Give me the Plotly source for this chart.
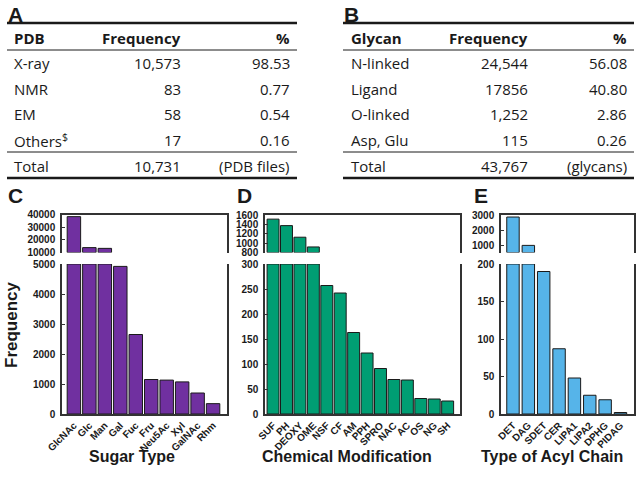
import plotly.graph_objects as go

W, H = 638, 478

# --- Table A: PDB entries by method ---
pdb_header = ["PDB", "Frequency", "%"]
pdb_rows = ["X-ray", "NMR", "EM", "Others<sup>$</sup>"]
pdb_freq = ["10,573", "83", "58", "17"]
pdb_pct = ["98.53", "0.77", "0.54", "0.16"]
pdb_total = ["Total", "10,731", "(PDB files)"]

# --- Table B: glycan types ---
gly_header = ["Glycan", "Frequency", "%"]
gly_rows = ["N-linked", "Ligand", "O-linked", "Asp, Glu"]
gly_freq = ["24,544", "17856", "1,252", "115"]
gly_pct = ["56.08", "40.80", "2.86", "0.26"]
gly_total = ["Total", "43,767", "(glycans)"]

# --- Bar panels ---
sugar_types = ["GlcNAc", "Glc", "Man", "Gal", "Fuc", "Fru", "Neu5Ac", "Xyl", "GalNAc", "Rhm"]
sugar_freq = [38600, 13900, 13300, 4920, 2650, 1150, 1130, 1070, 700, 345]

mod_types = ["SUF", "PH", "DEOXY", "OME", "NSF", "CF", "AM", "PPH", "SPRO", "NAC", "AC", "OS", "NG", "SH"]
mod_freq = [1520, 1380, 1130, 920, 257, 242, 163, 122, 91, 69, 68, 31, 30, 26]

acyl_types = ["DET", "DAG", "SDET", "CER", "LIPA1", "LIPA2", "DPHG", "PIDAG"]
acyl_freq = [2890, 980, 190, 87, 48, 25, 19, 2]


def px(x):
    return x / W


def py(y):
    return 1 - y / H


TXT = "#1a1a1a"
LINE = "#333333"
tab_font = dict(family="Open Sans", size=15, color=TXT)
tab_bold = dict(family="Open Sans", size=15, color=TXT, weight="bold")
tick_font = dict(family="Liberation Sans", size=10, color=TXT, weight="bold")
title_font = dict(family="Liberation Sans", size=16, color=TXT, weight="bold")
letter_font = dict(family="Liberation Sans", size=21, color=TXT, weight="bold")

fig = go.Figure()
annotations = []
shapes = []


def add_text(x, y, text, font, anchor="left", angle=0):
    annotations.append(dict(x=px(x), y=py(y), xref="paper", yref="paper", text=text,
                            showarrow=False, xanchor=anchor, yanchor="middle",
                            font=font, textangle=angle))


def add_hline(x0, x1, y, w):
    shapes.append(dict(type="line", xref="paper", yref="paper", x0=px(x0), x1=px(x1),
                       y0=py(y), y1=py(y), line=dict(color=TXT, width=w)))


def draw_table(x0, x1, xl, xf, xp, header, rows, freq, pct, total):
    add_hline(x0, x1, 23, 2.5)
    add_hline(x0, x1, 50, 1)
    add_hline(x0, x1, 152, 1)
    add_hline(x0, x1, 178, 2.5)
    add_text(xl, 38, header[0], tab_bold)
    add_text(xf, 38, header[1], tab_bold, "right")
    add_text(xp, 38, header[2], tab_bold, "right")
    ys = [63, 89, 114, 140]
    for r, f, p, y in zip(rows, freq, pct, ys):
        add_text(xl, y, r, tab_font)
        add_text(xf, y, f, tab_font, "right")
        add_text(xp, y, p, tab_font, "right")
    add_text(xl, 166, total[0], tab_font)
    add_text(xf, 166, total[1], tab_font, "right")
    add_text(xp, 166, total[2], tab_font, "right")


draw_table(7, 297, 12, 183, 292, pdb_header, pdb_rows, pdb_freq, pdb_pct, pdb_total)
draw_table(343, 634, 349, 530, 629, gly_header, gly_rows, gly_freq, gly_pct, gly_total)
add_text(6, 14, "A", letter_font)
add_text(342, 14, "B", letter_font)

panels = [
    dict(cats=sugar_types, vals=sugar_freq, color="#7030A0", xpx=(62, 227), xr=[-0.77, 9.9],
         width=0.87, top=[10000, 40300], topticks=[10000, 20000, 30000, 40000],
         bot=[0, 5000], botticks=[0, 1000, 2000, 3000, 4000, 5000],
         letter="C", lx=6, title="Sugar Type", tx=132),
    dict(cats=mod_types, vals=mod_freq, color="#009E73", xpx=(265, 460), xr=[-0.6, 13.92],
         width=0.89, top=[800, 1620], topticks=[800, 1000, 1200, 1400, 1600],
         bot=[0, 300], botticks=[0, 50, 100, 150, 200, 250, 300],
         letter="D", lx=235, title="Chemical Modification", tx=347),
    dict(cats=acyl_types, vals=acyl_freq, color="#56B4E9", xpx=(501, 634), xr=[-0.78, 7.88],
         width=0.81, top=[500, 3060], topticks=[1000, 2000, 3000],
         bot=[0, 200], botticks=[0, 50, 100, 150, 200],
         letter="E", lx=472, title="Type of Acyl Chain", tx=552),
]

top_dom = [py(252.5), py(214.5)]
bot_dom = [py(414), py(264)]

layout_axes = {}
for i, p in enumerate(panels):
    kt, kb = 2 * i + 1, 2 * i + 2
    lo, hi = p["top"][0], p["bot"][1]
    # broken axis: upper segment starts at lo, lower segment is capped at hi
    top_y = [v - lo if v > lo else None for v in p["vals"]]
    bot_y = [min(v, hi) for v in p["vals"]]
    mk = dict(color=p["color"], line=dict(color="#1a1a1a", width=1))
    fig.add_trace(go.Bar(x=p["cats"], y=top_y, base=lo, marker=mk, width=p["width"],
                         cliponaxis=False, xaxis=f"x{kt}", yaxis=f"y{kt}", showlegend=False))
    fig.add_trace(go.Bar(x=p["cats"], y=bot_y, marker=mk, width=p["width"],
                         cliponaxis=False, xaxis=f"x{kb}", yaxis=f"y{kb}", showlegend=False))
    dom = [px(p["xpx"][0]), px(p["xpx"][1])]
    common_y = dict(showline=True, linecolor=LINE, linewidth=1.5, mirror=True, ticks="inside",
                    ticklen=3, tickcolor=LINE, showgrid=False, zeroline=False, tickfont=tick_font,
                    ticklabelstandoff=3, tickformat="d", automargin=False)
    layout_axes[f"xaxis{kt}"] = dict(domain=dom, range=p["xr"], anchor=f"y{kt}", side="top",
                                     showline=True, linecolor=LINE, linewidth=1.5,
                                     showticklabels=False, ticks="", showgrid=False,
                                     automargin=False)
    layout_axes[f"yaxis{kt}"] = dict(domain=top_dom, range=p["top"], anchor=f"x{kt}",
                                     tickvals=p["topticks"], **common_y)
    layout_axes[f"xaxis{kb}"] = dict(domain=dom, range=p["xr"], anchor=f"y{kb}",
                                     showline=True, linecolor=LINE, linewidth=1.5,
                                     ticks="", showgrid=False, tickangle=-45, tickfont=tick_font,
                                     automargin=False)
    layout_axes[f"yaxis{kb}"] = dict(domain=bot_dom, range=p["bot"], anchor=f"x{kb}",
                                     tickvals=p["botticks"], **common_y)
    add_text(p["lx"], 195, p["letter"], letter_font)
    add_text(p["tx"], 456, p["title"], title_font, "center")

add_text(11, 325, "Frequency", dict(family="Liberation Sans", size=17, color=TXT, weight="bold"),
         "center", -90)

fig.update_layout(
    width=W, height=H,
    margin=dict(l=0, r=0, t=0, b=0),
    paper_bgcolor="white", plot_bgcolor="white",
    annotations=annotations, shapes=shapes,
    **layout_axes,
)

# the page body has a default 8px margin; drop it so the figure sits at 0,0
fig.write_html("out.html", config={"displayModeBar": False},
               post_script="document.body.style.margin='0';")
